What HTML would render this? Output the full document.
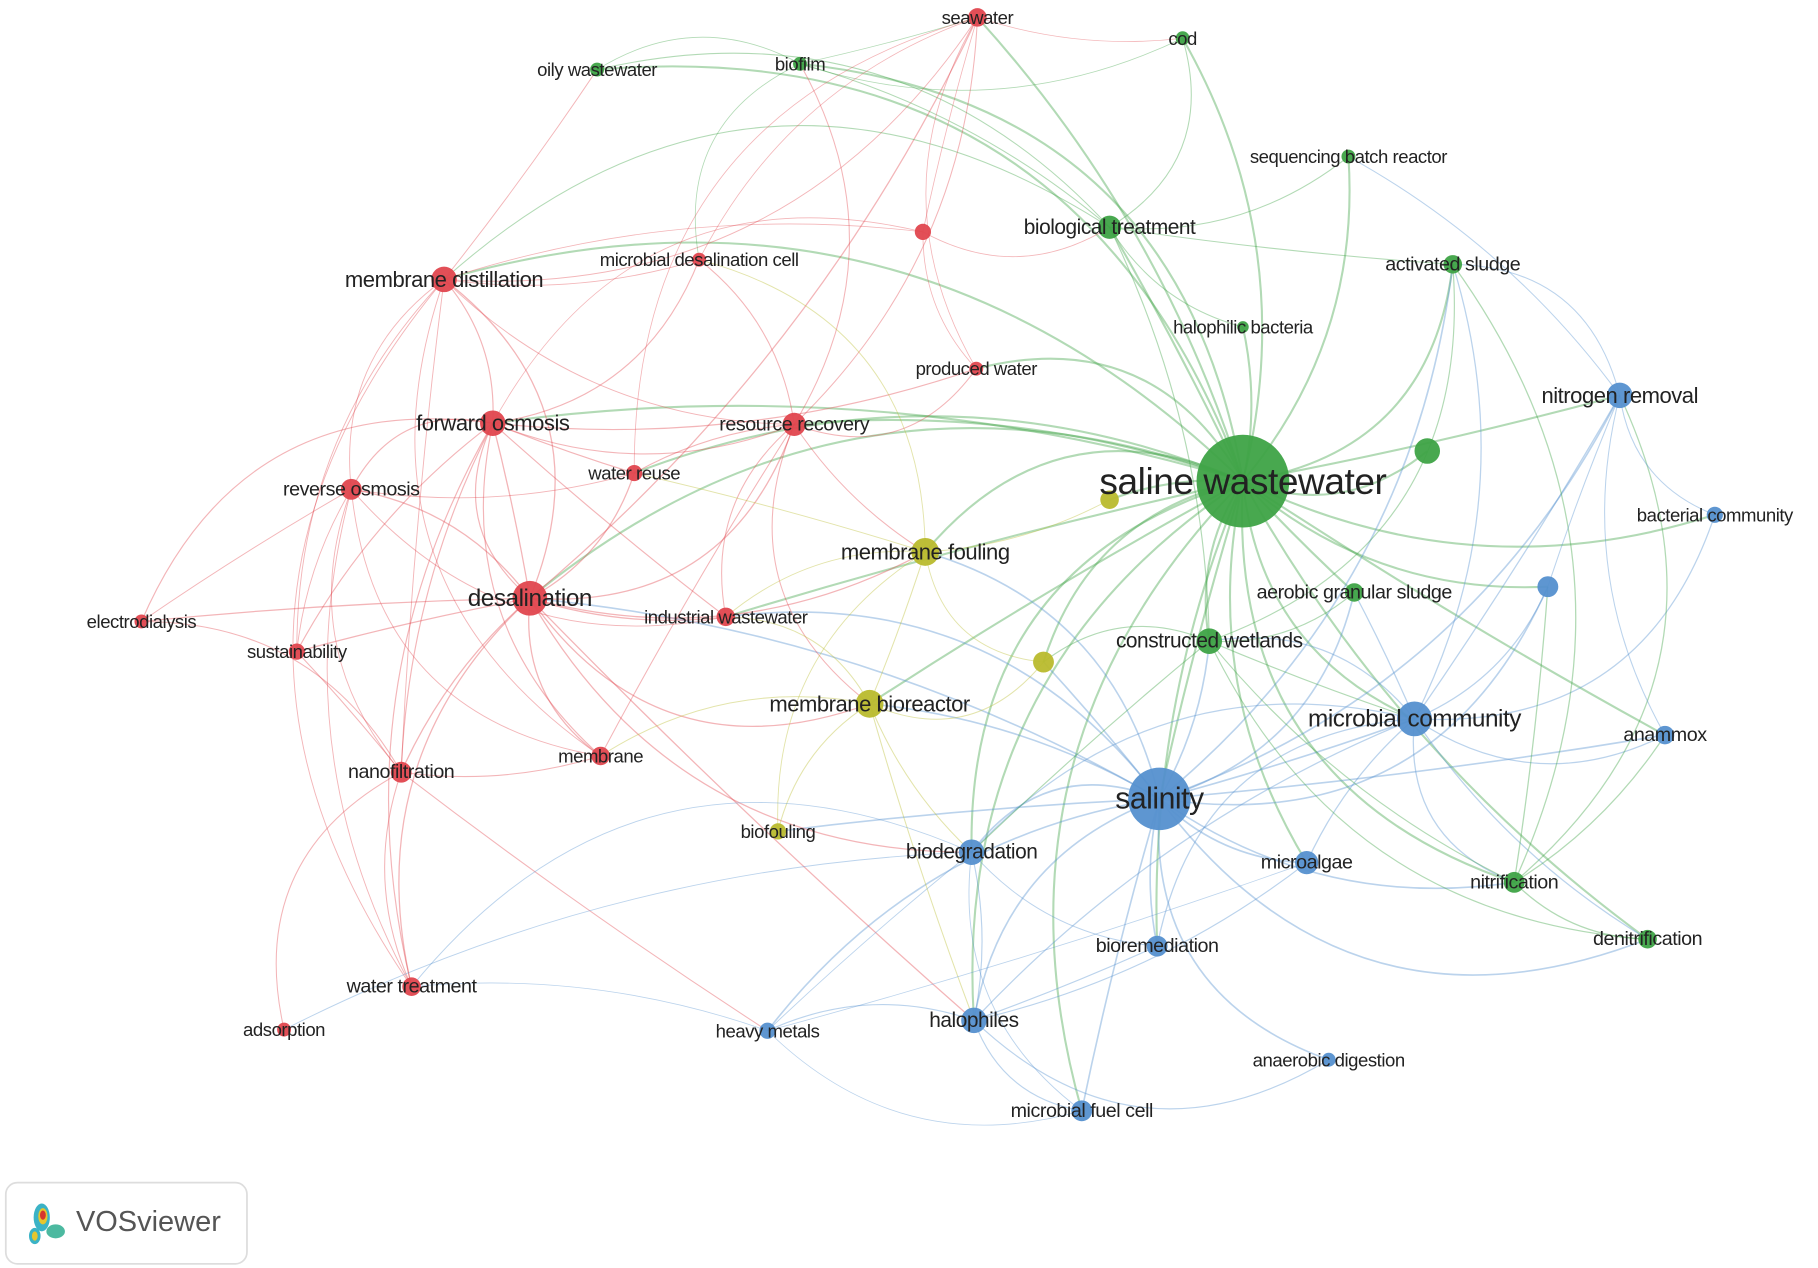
<!DOCTYPE html>
<html><head><meta charset="utf-8">
<style>
html,body{margin:0;padding:0;background:#fff;}
svg{display:block;}
text{font-family:"Liberation Sans",sans-serif;fill:#222;text-anchor:middle;dominant-baseline:central;letter-spacing:-0.4px;}
</style></head>
<body>
<svg id="s" width="1818" height="1268" viewBox="0 0 1568 1093.6" preserveAspectRatio="none" xmlns="http://www.w3.org/2000/svg">
<g id="edges" fill="none"></g>
<g id="nodes"></g>
<g id="labels"></g>
<rect x="5" y="1020" width="208" height="70" rx="10" fill="#fff" stroke="#ddd" stroke-width="1.5"/>
<ellipse cx="36" cy="1050" rx="7" ry="12" fill="#3bb3c6"/>
<ellipse cx="37" cy="1049" rx="4" ry="7" fill="#e6c62e"/>
<ellipse cx="37" cy="1048" rx="2.5" ry="4" fill="#d6362e"/>
<ellipse cx="30" cy="1066" rx="5" ry="7" fill="#3bb3c6"/>
<ellipse cx="30" cy="1066" rx="2.5" ry="4" fill="#e6c62e"/>
<ellipse cx="48" cy="1062" rx="8" ry="6" fill="#4cb9a0"/>
<text x="128" y="1054" style="font-size:25px;fill:#555;letter-spacing:0">VOSviewer</text>
</svg>
<script>
const C={r:'#e0464e',g:'#3ea346',b:'#5590cf',y:'#b9bb2d'};
const N={
sea:[843,15,8,'r','seawater',16],oily:[515,60,6,'g','oily wastewater',16],biofilm:[690,55,6,'g','biofilm',16],cod:[1020,33,6,'g','cod',16],
md:[383,241,11,'r','membrane distillation',19],mdc:[603,224,6,'r','microbial desalination cell',16],ru:[796,200,7,'r','',16],
pw:[842,318,6,'r','produced water',16],fo:[425,365,11,'r','forward osmosis',19],rr:[685,366,10,'r','resource recovery',17],
wr:[547,408,7,'r','water reuse',16],ro:[303,422,9,'r','reverse osmosis',17],des:[457,516,15,'r','desalination',21],
iw:[626,532,8,'r','industrial wastewater',16],ed:[122,536,6,'r','electrodialysis',16],sus:[256,562,7,'r','sustainability',16],
nf:[346,666,9,'r','nanofiltration',17],mem:[518,652,8,'r','membrane',16],wt:[355,851,8,'r','water treatment',17],ads:[245,888,6,'r','adsorption',16],
sbr:[1163,135,6,'g','sequencing batch reactor',16],bt:[957,196,10,'g','biological treatment',18],as:[1253,228,8,'g','activated sludge',17],
hb:[1072,282,5,'g','halophilic bacteria',16],sw:[1072,415,40,'g','saline wastewater',32],gu:[1231,389,11,'g','',16],
ags:[1168,511,8,'g','aerobic granular sludge',17],cw:[1043,553,11,'g','constructed wetlands',18],nit:[1306,761,9,'g','nitrification',17],
den:[1421,810,8,'g','denitrification',17],
nr:[1397,341,11,'b','nitrogen removal',19],bc:[1479,444,7,'b','bacterial community',16],bu:[1335,506,9,'b','',16],
mc:[1220,620,15,'b','microbial community',21],ana:[1436,634,8,'b','anammox',17],sal:[1000,689,27,'b','salinity',26],
ma:[1127,744,10,'b','microalgae',17],bd:[838,735,11,'b','biodegradation',18],br:[998,816,9,'b','bioremediation',17],
hal:[840,880,11,'b','halophiles',18],hm:[662,889,7,'b','heavy metals',16],ad:[1146,914,6,'b','anaerobic digestion',16],mfc:[933,958,9,'b','microbial fuel cell',17],
y1:[957,431,8,'y','',16],mf:[798,476,12,'y','membrane fouling',19],y2:[900,571,9,'y','',16],mbr:[750,607,12,'y','membrane bioreactor',19],bf:[671,717,7,'y','biofouling',16]
};
const keys=Object.keys(N);
const E=[];
function add(a,list,w){list.split(' ').forEach(b=>E.push([a,b,w||1]));}
add('sw','bt sbr as hb gu ags cw nit den mc sal ma bd br hal nr bu mf y1 y2 mbr cod biofilm rr des iw wr pw sea mfc ana bc oily fo md',1.8);
add('sal','mc ma bd br hal mfc nit den cw ags ana nr bu mbr mf y2 hm ad des iw bf as',1.4);
add('mc','nit den ana nr bu bc ma cw ags as br hal bd',1.1);
add('des','fo ro md nf mem sus wr rr iw wt ed mf mbr sea bd hal',1.1);
add('fo','md ro nf mem wr rr des sus mdc iw wt ed pw',1);
add('md','ro nf sus wt mdc sea oily rr mem',0.8);
add('ro','sus nf ed wt mem wr iw',0.8);
add('nf','sus wt ads mem ed hm',0.9);
add('rr','mdc pw wr iw mem sea mbr mf biofilm',0.9);
add('mbr','mf bf y2 bd iw hal mem',0.9);
add('mf','y2 y1 bf wr iw mdc',0.8);
add('cw','nit den mc ags as bt y2 bd',1);
add('nit','den nr ana as bu',1.1);
add('bt','sbr cod biofilm oily as hb md',0.9);
add('hal','bd mfc br hm ad ma',1);
add('bd','mfc hm br wt ads',0.8);
add('nr','bc bu ana as sbr',0.9);
add('biofilm','oily sea cod mdc',0.7);
add('sea','cod pw ru mdc wr',0.7);
add('hm','wt mfc ma',0.7);
add('ru','pw fo md bt',0.7);
function draw(){
 const eg=document.getElementById('edges');let h='';
 E.forEach(([a,b,w],i)=>{const A=N[a],B=N[b];if(!A||!B)return;
  const dx=B[0]-A[0],dy=B[1]-A[1];const s=((i*7)%5-2)*0.09+0.2;
  const cx=(A[0]+B[0])/2-dy*s,cy=(A[1]+B[1])/2+dx*s;
  h+=`<path d="M${A[0]} ${A[1]}Q${cx} ${cy} ${B[0]} ${B[1]}" stroke="${C[A[3]]}" stroke-opacity="0.4" stroke-width="${w}"/>`;});
 eg.innerHTML=h;
 let nh='',lh='';
 keys.forEach(k=>{const n=N[k];nh+=`<circle cx="${n[0]}" cy="${n[1]}" r="${n[2]}" fill="${C[n[3]]}" fill-opacity="0.95"/>`;
  if(n[4])lh+=`<text x="${n[0]}" y="${n[1]}" style="font-size:${n[5]}px">${n[4]}</text>`;});
 document.getElementById('nodes').innerHTML=nh;document.getElementById('labels').innerHTML=lh;
}
draw();
</script>
</body></html>
